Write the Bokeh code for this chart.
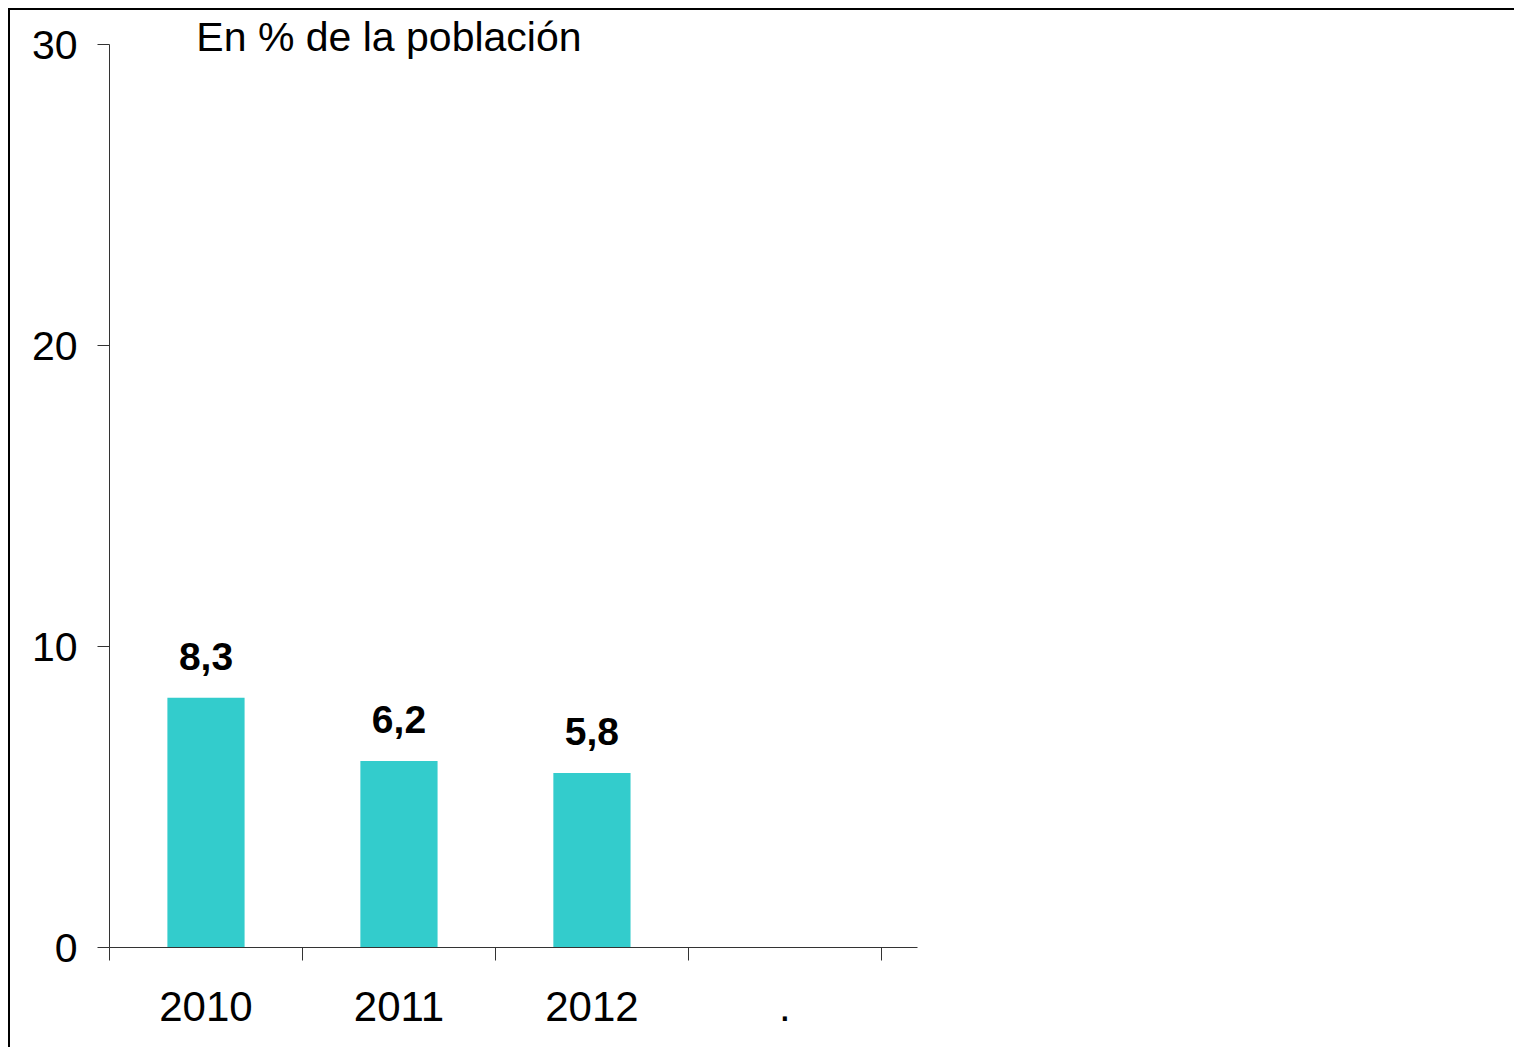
import numpy as np
from bokeh.plotting import figure
from bokeh.models import Range1d, FixedTicker, Label, ColumnDataSource
from bokeh.core.properties import value
from bokeh.embed import file_html
from bokeh.resources import INLINE

categories = ["2010", "2011", "2012", "."]
values = [8.3, 6.2, 5.8, None]
value_labels = ["8,3", "6,2", "5,8", ""]
y_ticks = [0, 10, 20, 30]
title_text = "En % de la población"

FONT = "Liberation Sans"

idx = np.arange(len(categories))
centers = (idx + 0.5).tolist()
bar_idx = [i for i, v in enumerate(values) if v is not None]
src = ColumnDataSource(dict(
    x=[centers[i] for i in bar_idx],
    top=[values[i] for i in bar_idx],
    lab=[value_labels[i] for i in bar_idx],
))

y_max = y_ticks[-1]
y_end = y_max * 937 / 903

p = figure(width=1506, height=1039, output_backend="svg", toolbar_location=None,
           x_range=Range1d(0, 4.187), y_range=Range1d(0, y_end),
           min_border_left=99, min_border_top=0, min_border_right=599,
           min_border_bottom=102)
p.styles = {"margin-left": "8px", "margin-top": "8px",
            "border-left": "2px solid #000000", "border-top": "2px solid #000000"}
p.outline_line_color = None
p.grid.visible = False
p.background_fill_color = "white"
p.border_fill_color = "white"

p.vbar(x="x", top="top", width=0.4, bottom=0, source=src,
       fill_color="#33CCCC", line_color=None)

p.text(x="x", y="top", text="lab", source=src, text_align="center",
       text_baseline="alphabetic", y_offset=-41,
       text_font=value(FONT), text_font_size="39px", text_font_style="bold",
       text_color="black")

AX = "#333333"
xa = p.xaxis[0]
xa.ticker = FixedTicker(ticks=centers, minor_ticks=idx.tolist() + [len(categories)])
xa.major_label_overrides = {c: lab for c, lab in zip(centers, categories)}
xa.major_tick_out = 0
xa.major_tick_in = 0
xa.minor_tick_out = 13
xa.minor_tick_in = 0
xa.minor_tick_line_color = AX
xa.axis_line_color = AX
xa.major_label_text_font = FONT
xa.major_label_text_font_size = "42px"
xa.major_label_text_color = "black"
xa.major_label_standoff = 31

ya = p.yaxis[0]
ya.ticker = FixedTicker(ticks=y_ticks, minor_ticks=[])
ya.bounds = (0, y_max)
ya.major_tick_out = 12
ya.major_tick_in = 0
ya.major_tick_line_color = AX
ya.axis_line_color = AX
ya.major_label_text_font = FONT
ya.major_label_text_font_size = "41px"
ya.major_label_text_color = "black"
ya.major_label_standoff = 20

p.add_layout(Label(x=0.45, y=30.265, text=title_text, text_font=FONT,
                   text_font_size="41px", text_color="black",
                   text_baseline="alphabetic", text_align="left"))

open("out.html", "w").write(file_html(p, INLINE))
